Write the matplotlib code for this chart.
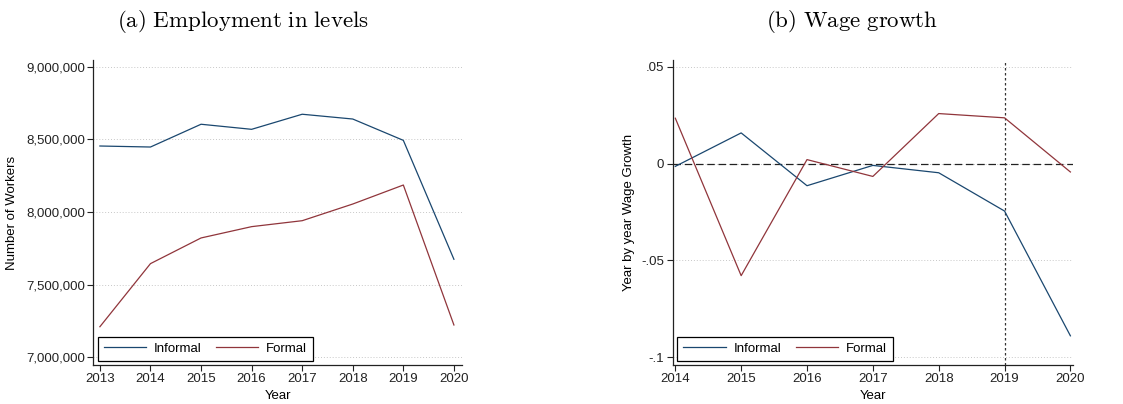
import matplotlib
matplotlib.use("Agg")
import matplotlib.pyplot as plt
from matplotlib.ticker import FuncFormatter

# employment levels, 2013-2020
years_emp = [2013, 2014, 2015, 2016, 2017, 2018, 2019, 2020]
informal_emp = [8455000, 8448000, 8605000, 8570000, 8674000, 8641000, 8494000, 7674000]
formal_emp = [7209000, 7644000, 7821000, 7899000, 7940000, 8055000, 8186000, 7221000]

# year-on-year wage growth, 2014-2020
years_wage = [2014, 2015, 2016, 2017, 2018, 2019, 2020]
informal_wage = [-0.0014, 0.0159, -0.0114, -0.0009, -0.0047, -0.0245, -0.0890]
formal_wage = [0.0235, -0.0579, 0.0021, -0.0066, 0.0259, 0.0237, -0.0043]

emp_ticks = [7000000, 7500000, 8000000, 8500000, 9000000]
wage_ticks = [-0.1, -0.05, 0, 0.05]
wage_ticklabels = ["-.1", "-.05", "0", ".05"]

NAVY = "#1a476f"
MAROON = "#90353b"
GRID = "#c8c8c8"
FS = 9.5

plt.rcParams["font.family"] = ["Liberation Sans", "DejaVu Sans"]
plt.rcParams["mathtext.fontset"] = "cm"

fig = plt.figure(figsize=(11.23, 4.04), dpi=100)
ax_emp = fig.add_axes([0.0831, 0.0965, 0.3283, 0.755])
ax_wage = fig.add_axes([0.599, 0.0965, 0.3565, 0.755])


def style_axis(ax):
    for side in ("top", "right"):
        ax.spines[side].set_visible(False)
    for side in ("left", "bottom"):
        ax.spines[side].set_linewidth(0.9)
        ax.spines[side].set_color("#222")
    ax.tick_params(direction="out", length=4, width=0.8, labelsize=FS,
                   colors="#222", pad=2)
    ax.yaxis.grid(True, linestyle=(0, (1, 2)), color=GRID, linewidth=0.7)
    ax.set_axisbelow(True)


def add_legend(ax, handles):
    leg = ax.legend(handles=handles, labels=["Informal", "Formal"], ncol=2,
                    loc="lower left", bbox_to_anchor=(0.012, 0.013),
                    fontsize=FS, frameon=True, fancybox=False,
                    edgecolor="black", framealpha=1, handlelength=3.2,
                    columnspacing=1.1, borderpad=0.45, handletextpad=0.6,
                    borderaxespad=0)
    leg.get_frame().set_linewidth(0.9)


# (a) employment levels
style_axis(ax_emp)
l1, = ax_emp.plot(years_emp, informal_emp, color=NAVY, lw=0.9)
l2, = ax_emp.plot(years_emp, formal_emp, color=MAROON, lw=0.9)
ax_emp.set_xlim(2012.87, 2020.16)
ax_emp.set_ylim(6945000, 9048000)
ax_emp.set_xticks(years_emp)
ax_emp.set_yticks(emp_ticks)
ax_emp.yaxis.set_major_formatter(FuncFormatter(lambda v, _: f"{v:,.0f}"))
ax_emp.set_xlabel("Year", fontsize=FS, labelpad=3)
ax_emp.set_ylabel("Number of Workers", fontsize=FS, labelpad=6)
add_legend(ax_emp, [l1, l2])

# (b) wage growth
style_axis(ax_wage)
ax_wage.axhline(0, color="#222", lw=0.9, ls=(0, (6, 3)), zorder=1.5)
ax_wage.axvline(2019, color="#333", lw=0.9, ls=(0, (2, 2)), zorder=1.5)
l3, = ax_wage.plot(years_wage, informal_wage, color=NAVY, lw=0.9)
l4, = ax_wage.plot(years_wage, formal_wage, color=MAROON, lw=0.9)
ax_wage.set_xlim(2013.96, 2020.04)
ax_wage.set_ylim(-0.1041, 0.0536)
ax_wage.set_xticks(years_wage)
ax_wage.set_yticks(wage_ticks)
ax_wage.set_yticklabels(wage_ticklabels)
ax_wage.set_xlabel("Year", fontsize=FS, labelpad=3)
ax_wage.set_ylabel("Year by year Wage Growth", fontsize=FS, labelpad=5)
add_legend(ax_wage, [l3, l4])

fig.text(0.2165, 0.947, r"$\mathrm{(a)\ Employment\ in\ levels}$",
         ha="center", va="center", fontsize=16.5)
fig.text(0.759, 0.947, r"$\mathrm{(b)\ Wage\ growth}$",
         ha="center", va="center", fontsize=16.5)

fig.savefig("out.png", dpi=100, facecolor="white")
